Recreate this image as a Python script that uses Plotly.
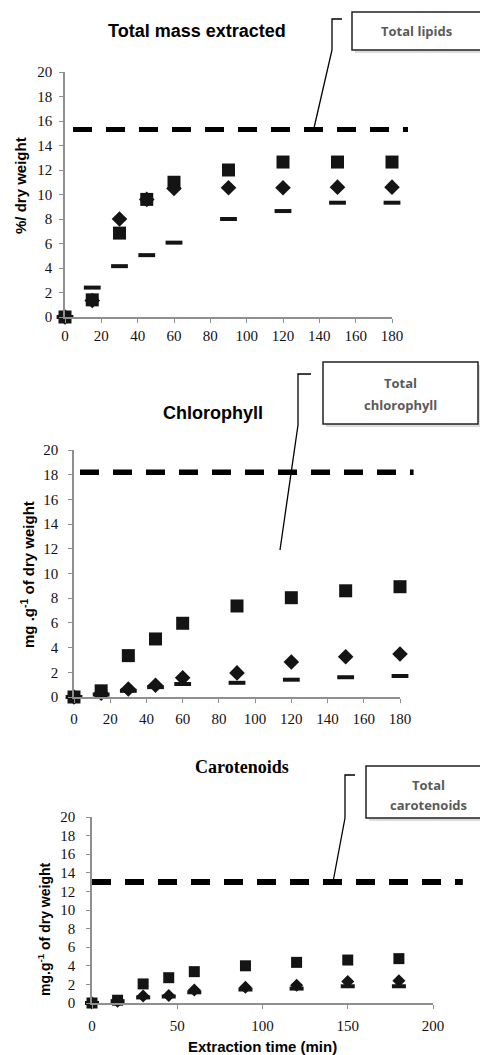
import plotly.graph_objects as go

# page is 488x1055, the html body adds an 8px margin -> figure drawn at (8, 8)
OX, OY = 8, 8
W, H = 488 - OX, 1055 - OY

# ---------------- data ----------------
time_min = [0, 15, 30, 45, 60, 90, 120, 150, 180]

mass_square = [0, 1.4, 6.85, 9.6, 11.0, 12.0, 12.65, 12.65, 12.65]
mass_diamond = [0, 1.35, 8.0, 9.6, 10.5, 10.55, 10.55, 10.6, 10.6]
mass_dash = [0, 2.4, 4.15, 5.05, 6.07, 8.0, 8.65, 9.33, 9.33]
total_lipids = 15.3

chl_square = [0, 0.5, 3.35, 4.7, 5.97, 7.37, 8.04, 8.6, 8.93]
chl_diamond = [0, 0.3, 0.65, 0.95, 1.55, 1.95, 2.83, 3.26, 3.48]
chl_dash = [0, 0.2, 0.5, 0.8, 1.05, 1.15, 1.4, 1.6, 1.7]
total_chl = 18.2

car_square = [0, 0.3, 2.05, 2.72, 3.37, 4.0, 4.37, 4.62, 4.77]
car_diamond = [0, 0.2, 0.75, 0.8, 1.4, 1.7, 1.9, 2.3, 2.4]
car_dash = [0, 0.2, 0.6, 0.7, 1.15, 1.45, 1.55, 1.8, 1.8]
total_car = 13.0

titles = ["Total mass extracted", "Chlorophyll", "Carotenoids"]
y_titles = ["%/ dry weight", "mg .g<sup>-1</sup> of dry weight", "mg.g<sup>-1</sup> of dry weight"]
x_title = "Extraction time (min)"
callouts = [["Total lipids"], ["Total", "chlorophyll"], ["Total", "carotenoids"]]

x_ticks_12 = [0, 20, 40, 60, 80, 100, 120, 140, 160, 180]
x_ticks_3 = [0, 50, 100, 150, 200]
y_ticks = [0, 2, 4, 6, 8, 10, 12, 14, 16, 18, 20]

# ---------------- layout helpers (page pixel -> paper) ----------------
def px(x):
    return (x - OX) / W

def py(y):
    return 1 - (y - OY) / H

panels = [
    dict(x=(65, 392), y=(72, 317), xr=(0, 180), ticks=x_ticks_12,
         data=(mass_square, mass_diamond, mass_dash), total=total_lipids,
         dash_x=(4.4, 188.8), msz=(13, 12, 12), dw=5, ysd=4, xsd=0),
    dict(x=(74, 400), y=(450, 697), xr=(0, 180), ticks=x_ticks_12,
         data=(chl_square, chl_diamond, chl_dash), total=total_chl,
         dash_x=(3.3, 187.5), msz=(13, 12, 12), dw=5.5, ysd=7, xsd=3),
    dict(x=(92, 433), y=(817, 1003), xr=(0, 200), ticks=x_ticks_3,
         data=(car_square, car_diamond, car_dash), total=total_car,
         dash_x=(0, 217.5), msz=(11, 10, 10), dw=6, ysd=8, xsd=4),
]

fig = go.Figure()
ink = "#141414"
axis_col = "#8f8f8f"
shapes = []
annotations = []

for i, p in enumerate(panels):
    n = "" if i == 0 else str(i + 1)
    xa, ya = "x" + n, "y" + n
    sq, di, da = p["data"]
    fig.add_trace(go.Scatter(x=time_min, y=sq, mode="markers", xaxis=xa, yaxis=ya,
                             marker=dict(symbol="square", size=p["msz"][0], color=ink),
                             cliponaxis=False, showlegend=False))
    fig.add_trace(go.Scatter(x=time_min, y=di, mode="markers", xaxis=xa, yaxis=ya,
                             marker=dict(symbol="diamond", size=p["msz"][1], color=ink),
                             cliponaxis=False, showlegend=False))
    fig.add_trace(go.Scatter(x=time_min, y=da, mode="markers", xaxis=xa, yaxis=ya,
                             marker=dict(symbol="line-ew", size=p["msz"][2],
                                         line=dict(width=4, color=ink)),
                             cliponaxis=False, showlegend=False))

    common = dict(showline=True, linecolor=axis_col, linewidth=1.5, ticks="outside",
                  ticklen=4, tickcolor=axis_col, tickwidth=1, showgrid=False,
                  zeroline=False, automargin=False,
                  tickfont=dict(family="Liberation Serif", size=15, color="#111"))
    fig.layout["xaxis" + n] = dict(domain=[px(p["x"][0]), px(p["x"][1])],
                                   range=list(p["xr"]), tickvals=p["ticks"],
                                   ticklabelstandoff=p["xsd"], anchor=ya, **common)
    fig.layout["yaxis" + n] = dict(domain=[py(p["y"][1]), py(p["y"][0])],
                                   range=[0, 20], tickvals=y_ticks,
                                   ticklabelstandoff=p["ysd"], anchor=xa, **common)

    # total (dashed) reference line, in axis-domain units so it can overrun the axis
    x0, x1 = p["xr"]
    shapes.append(dict(type="line", xref=xa + " domain", yref=ya + " domain",
                       x0=(p["dash_x"][0] - x0) / (x1 - x0),
                       x1=(p["dash_x"][1] - x0) / (x1 - x0),
                       y0=p["total"] / 20, y1=p["total"] / 20,
                       line=dict(color="#000", width=p["dw"], dash="19px,14px")))

# ---------------- titles ----------------
annotations.append(dict(text="<b>" + titles[0] + "</b>", x=px(197), y=py(31),
                        font=dict(family="Liberation Sans", size=18, color="#000")))
annotations.append(dict(text="<b>" + titles[1] + "</b>", x=px(213), y=py(413),
                        font=dict(family="Liberation Sans", size=18, color="#000")))
annotations.append(dict(text="<b>" + titles[2] + "</b>", x=px(242), y=py(767),
                        font=dict(family="Liberation Serif", size=18, color="#000")))

annotations.append(dict(text="<b>" + y_titles[0] + "</b>", x=px(20), y=py(186), textangle=-90,
                        font=dict(family="Liberation Sans", size=15, color="#000")))
annotations.append(dict(text="<b>" + y_titles[1] + "</b>", x=px(27), y=py(575), textangle=-90,
                        font=dict(family="Liberation Sans", size=15, color="#000")))
annotations.append(dict(text="<b>" + y_titles[2] + "</b>", x=px(44), y=py(929), textangle=-90,
                        font=dict(family="Liberation Sans", size=14, color="#000")))
annotations.append(dict(text="<b>" + x_title + "</b>", x=px(262), y=py(1046),
                        font=dict(family="Liberation Sans", size=15, color="#000")))

# ---------------- callout boxes ----------------
boxes = [(352, 12, 481, 50), (323, 362, 478, 424), (366, 766, 494, 818)]
text_pos = [[(416, 31)], [(400, 383), (400, 405)], [(428, 785), (428, 805)]]
connectors = [
    [(342, 19), (332, 19), (332, 50), (314, 128)],
    [(311, 374), (298, 374), (298, 425), (280, 550)],
    [(355, 775), (345, 775), (345, 818), (333, 882)],
]
for b, tp, lines, con in zip(boxes, text_pos, callouts, connectors):
    shapes.append(dict(type="rect", xref="paper", yref="paper",
                       x0=px(b[0] + 3), x1=px(b[2] + 3), y0=py(b[3] + 3), y1=py(b[1] + 3),
                       fillcolor="#dcdcdc", line=dict(width=0), layer="above"))
    shapes.append(dict(type="rect", xref="paper", yref="paper",
                       x0=px(b[0]), x1=px(b[2]), y0=py(b[3]), y1=py(b[1]),
                       fillcolor="#fff", line=dict(color="#222", width=1.5), layer="above"))
    for (tx, ty), t in zip(tp, lines):
        annotations.append(dict(text="<b>" + t + "</b>", x=px(tx), y=py(ty),
                                font=dict(family="Open Sans", size=13, color="#5a5a5a")))
    path = "M " + " L ".join(f"{px(x):.5f},{py(y):.5f}" for x, y in con)
    shapes.append(dict(type="path", xref="paper", yref="paper", path=path,
                       line=dict(color="#000", width=1.3), layer="above"))

for a in annotations:
    a.update(xref="paper", yref="paper", showarrow=False, xanchor="center", yanchor="middle")

fig.update_layout(template="none", width=W, height=H, margin=dict(l=0, r=0, t=0, b=0),
                  font=dict(family="Liberation Serif", color="#111"),
                  paper_bgcolor="#fff", plot_bgcolor="#fff",
                  shapes=shapes, annotations=annotations, showlegend=False)

fig.write_html("out.html")
